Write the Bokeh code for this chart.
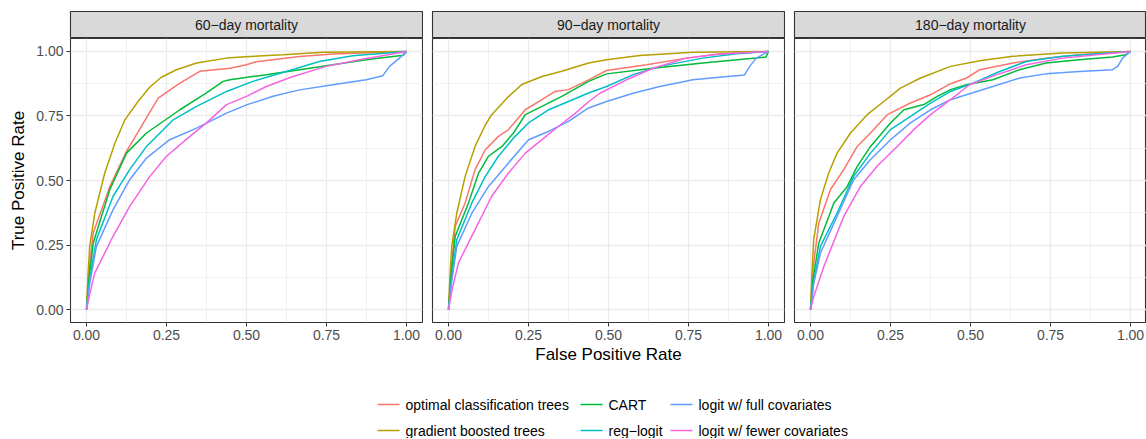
from bokeh.plotting import figure
from bokeh.models import Range1d, FixedTicker, ColumnDataSource
from bokeh.layouts import row, column
from bokeh.embed import file_html
from bokeh.resources import INLINE
from bokeh.core.properties import value

# ---------------- data ----------------
FACETS = ["60−day mortality", "90−day mortality", "180−day mortality"]
MODELS = ["optimal classification trees", "gradient boosted trees", "CART",
          "reg−logit", "logit w/ full covariates", "logit w/ fewer covariates"]
COLORS = ["#F8766D", "#B79F00", "#00BA38", "#00BFC4", "#619CFF", "#F564E3"]
TICKS = [0.0, 0.25, 0.5, 0.75, 1.0]
MINOR_TICKS = [0.125, 0.375, 0.625, 0.875]
TICK_LABELS = ["0.00", "0.25", "0.50", "0.75", "1.00"]
X_TITLE = "False Positive Rate"
Y_TITLE = "True Positive Rate"

# 60-day mortality
OCT_60_FPR = [0, 0.008, 0.021, 0.073, 0.125, 0.224, 0.292, 0.354, 0.448, 0.5, 0.53, 0.666, 0.77, 1.0]
OCT_60_TPR = [0, 0.15, 0.297, 0.477, 0.613, 0.819, 0.877, 0.923, 0.935, 0.948, 0.96, 0.98, 0.99, 1.0]
GBT_60_FPR = [0, 0.005, 0.01, 0.026, 0.057, 0.089, 0.12, 0.161, 0.198, 0.234, 0.281, 0.344, 0.4375, 0.51, 0.614, 0.74, 1.0]
GBT_60_TPR = [0, 0.14, 0.245, 0.374, 0.529, 0.645, 0.735, 0.806, 0.862, 0.9, 0.929, 0.955, 0.974, 0.98, 0.987, 0.997, 1.0]
CART_60_FPR = [0, 0.008, 0.021, 0.073, 0.125, 0.1875, 0.292, 0.375, 0.427, 0.448, 0.562, 0.666, 0.77, 0.874, 0.99, 1.0]
CART_60_TPR = [0, 0.12, 0.258, 0.465, 0.606, 0.684, 0.774, 0.839, 0.884, 0.89, 0.91, 0.929, 0.948, 0.968, 0.985, 1.0]
REG_60_FPR = [0, 0.01, 0.031, 0.083, 0.135, 0.1875, 0.271, 0.344, 0.438, 0.52, 0.624, 0.728, 0.832, 1.0]
REG_60_TPR = [0, 0.12, 0.271, 0.439, 0.542, 0.632, 0.735, 0.787, 0.845, 0.884, 0.922, 0.961, 0.983, 1.0]
FULL_60_FPR = [0, 0.01, 0.031, 0.083, 0.135, 0.1875, 0.26, 0.344, 0.4375, 0.5, 0.583, 0.666, 0.77, 0.874, 0.926, 0.947, 0.978, 1.0]
FULL_60_TPR = [0, 0.1, 0.245, 0.387, 0.503, 0.587, 0.658, 0.703, 0.761, 0.793, 0.826, 0.851, 0.871, 0.89, 0.906, 0.942, 0.974, 1.0]
FEW_60_FPR = [0, 0.01, 0.026, 0.083, 0.135, 0.198, 0.25, 0.323, 0.375, 0.4375, 0.5, 0.562, 0.645, 0.749, 0.853, 1.0]
FEW_60_TPR = [0, 0.06, 0.142, 0.284, 0.4, 0.516, 0.594, 0.671, 0.723, 0.794, 0.826, 0.864, 0.903, 0.942, 0.968, 1.0]

# 90-day mortality
OCT_90_FPR = [0, 0.008, 0.021, 0.052, 0.083, 0.115, 0.156, 0.1875, 0.24, 0.292, 0.333, 0.375, 0.4375, 0.494, 0.619, 0.743, 0.847, 1.0]
OCT_90_TPR = [0, 0.15, 0.323, 0.413, 0.542, 0.619, 0.671, 0.697, 0.774, 0.813, 0.845, 0.852, 0.89, 0.926, 0.948, 0.974, 0.99, 1.0]
GBT_90_FPR = [0, 0.005, 0.01, 0.026, 0.052, 0.083, 0.115, 0.135, 0.1875, 0.229, 0.292, 0.354, 0.4375, 0.494, 0.598, 0.764, 1.0]
GBT_90_TPR = [0, 0.14, 0.245, 0.374, 0.516, 0.632, 0.715, 0.755, 0.825, 0.872, 0.903, 0.923, 0.955, 0.968, 0.984, 0.997, 1.0]
CART_90_FPR = [0, 0.008, 0.021, 0.0625, 0.094, 0.125, 0.167, 0.203, 0.24, 0.292, 0.354, 0.4375, 0.494, 0.639, 0.795, 0.992, 1.0]
CART_90_TPR = [0, 0.13, 0.284, 0.413, 0.529, 0.594, 0.632, 0.684, 0.755, 0.787, 0.826, 0.884, 0.913, 0.935, 0.955, 0.978, 1.0]
REG_90_FPR = [0, 0.01, 0.026, 0.073, 0.115, 0.156, 0.208, 0.25, 0.3125, 0.375, 0.4375, 0.494, 0.577, 0.66, 0.795, 0.9, 1.0]
REG_90_TPR = [0, 0.12, 0.271, 0.413, 0.516, 0.594, 0.671, 0.723, 0.774, 0.806, 0.839, 0.864, 0.91, 0.942, 0.974, 0.991, 1.0]
FULL_90_FPR = [0, 0.01, 0.026, 0.073, 0.125, 0.1875, 0.25, 0.3125, 0.375, 0.4375, 0.494, 0.577, 0.66, 0.764, 0.847, 0.925, 0.941, 0.962, 1.0]
FULL_90_TPR = [0, 0.11, 0.245, 0.374, 0.477, 0.568, 0.658, 0.69, 0.729, 0.781, 0.806, 0.838, 0.864, 0.89, 0.9, 0.909, 0.942, 0.974, 1.0]
FEW_90_FPR = [0, 0.01, 0.031, 0.083, 0.135, 0.1875, 0.24, 0.292, 0.344, 0.396, 0.4375, 0.473, 0.556, 0.639, 0.743, 0.847, 1.0]
FEW_90_TPR = [0, 0.07, 0.181, 0.31, 0.439, 0.529, 0.606, 0.658, 0.71, 0.76, 0.805, 0.838, 0.89, 0.935, 0.974, 0.99, 1.0]

# 180-day mortality
OCT_180_FPR = [0, 0.008, 0.026, 0.0625, 0.104, 0.146, 0.1875, 0.24, 0.3125, 0.375, 0.4375, 0.488, 0.529, 0.633, 0.736, 0.84, 1.0]
OCT_180_TPR = [0, 0.16, 0.335, 0.465, 0.542, 0.632, 0.684, 0.755, 0.8, 0.832, 0.875, 0.897, 0.929, 0.955, 0.974, 0.987, 1.0]
GBT_180_FPR = [0, 0.005, 0.01, 0.031, 0.057, 0.083, 0.125, 0.177, 0.229, 0.281, 0.344, 0.4375, 0.529, 0.632, 0.788, 1.0]
GBT_180_TPR = [0, 0.15, 0.271, 0.426, 0.529, 0.606, 0.684, 0.755, 0.806, 0.858, 0.897, 0.942, 0.964, 0.981, 0.994, 1.0]
CART_180_FPR = [0, 0.008, 0.026, 0.073, 0.115, 0.146, 0.1875, 0.25, 0.292, 0.354, 0.396, 0.4375, 0.487, 0.57, 0.653, 0.736, 0.84, 0.944, 0.985, 1.0]
CART_180_TPR = [0, 0.12, 0.258, 0.413, 0.477, 0.555, 0.632, 0.723, 0.774, 0.794, 0.826, 0.852, 0.871, 0.89, 0.929, 0.955, 0.968, 0.978, 0.987, 1.0]
REG_180_FPR = [0, 0.01, 0.031, 0.083, 0.135, 0.1875, 0.25, 0.3125, 0.375, 0.4375, 0.508, 0.591, 0.674, 0.788, 1.0]
REG_180_TPR = [0, 0.11, 0.245, 0.374, 0.516, 0.606, 0.697, 0.748, 0.8, 0.845, 0.877, 0.922, 0.961, 0.981, 1.0]
FULL_180_FPR = [0, 0.01, 0.031, 0.083, 0.135, 0.1875, 0.25, 0.3125, 0.375, 0.4375, 0.487, 0.57, 0.654, 0.736, 0.84, 0.944, 0.96, 0.975, 1.0]
FULL_180_TPR = [0, 0.1, 0.219, 0.361, 0.503, 0.581, 0.658, 0.723, 0.774, 0.813, 0.832, 0.864, 0.897, 0.913, 0.922, 0.929, 0.942, 0.974, 1.0]
FEW_180_FPR = [0, 0.01, 0.042, 0.104, 0.156, 0.208, 0.271, 0.323, 0.375, 0.4375, 0.497, 0.581, 0.674, 0.788, 1.0]
FEW_180_TPR = [0, 0.05, 0.168, 0.361, 0.477, 0.555, 0.632, 0.697, 0.755, 0.813, 0.871, 0.909, 0.948, 0.974, 1.0]

CURVES = [
    [(OCT_60_FPR, OCT_60_TPR), (GBT_60_FPR, GBT_60_TPR), (CART_60_FPR, CART_60_TPR),
     (REG_60_FPR, REG_60_TPR), (FULL_60_FPR, FULL_60_TPR), (FEW_60_FPR, FEW_60_TPR)],
    [(OCT_90_FPR, OCT_90_TPR), (GBT_90_FPR, GBT_90_TPR), (CART_90_FPR, CART_90_TPR),
     (REG_90_FPR, REG_90_TPR), (FULL_90_FPR, FULL_90_TPR), (FEW_90_FPR, FEW_90_TPR)],
    [(OCT_180_FPR, OCT_180_TPR), (GBT_180_FPR, GBT_180_TPR), (CART_180_FPR, CART_180_TPR),
     (REG_180_FPR, REG_180_TPR), (FULL_180_FPR, FULL_180_TPR), (FEW_180_FPR, FEW_180_TPR)],
]

# ---------------- style / layout ----------------
FONT = "Liberation Sans"
PANEL_W = 352
PANEL_H = 284
STRIP_H = 27
TOP = 11
LEFT = 70
GAP = 8
BOTTOM = 48
LINE_W = 1.5
BORDER = "#333333"
GRID = "#EBEBEB"

columns = []
for i, facet in enumerate(FACETS):
    left = LEFT if i == 0 else 1
    right = 0 if i == len(FACETS) - 1 else 1

    strip = figure(frame_width=PANEL_W, frame_height=STRIP_H,
                   x_range=Range1d(0, 1), y_range=Range1d(0, 1),
                   toolbar_location=None, output_backend="svg",
                   min_border_left=left, min_border_right=right,
                   min_border_top=TOP, min_border_bottom=0)
    strip.axis.visible = False
    strip.grid.visible = False
    strip.background_fill_color = "#D9D9D9"
    strip.outline_line_color = BORDER
    strip.outline_line_width = 1.1
    strip.text(x=[0.5], y=[0.5], text=[facet], text_align="center",
               text_baseline="middle", text_font=value(FONT),
               text_font_size="14px", text_color="#1A1A1A")

    p = figure(frame_width=PANEL_W, frame_height=PANEL_H,
               x_range=Range1d(-0.05, 1.05), y_range=Range1d(-0.05, 1.05),
               toolbar_location=None, output_backend="svg",
               min_border_left=left, min_border_right=right,
               min_border_top=0, min_border_bottom=BOTTOM)
    p.outline_line_color = BORDER
    p.outline_line_width = 1.1
    p.background_fill_color = "white"

    xt = FixedTicker(ticks=TICKS, minor_ticks=MINOR_TICKS)
    yt = FixedTicker(ticks=TICKS, minor_ticks=MINOR_TICKS)
    p.xaxis.ticker = xt
    p.yaxis.ticker = yt
    p.xgrid.ticker = xt
    p.ygrid.ticker = yt
    for g in (p.xgrid, p.ygrid):
        g.grid_line_color = GRID
        g.grid_line_width = 1.3
        g.minor_grid_line_color = GRID
        g.minor_grid_line_width = 0.7

    for ax in (p.xaxis, p.yaxis):
        ax.major_label_overrides = {t: lab for t, lab in zip(TICKS, TICK_LABELS)}
        ax.axis_line_color = None
        ax.major_tick_line_color = BORDER
        ax.major_tick_out = 4
        ax.major_tick_in = 0
        ax.minor_tick_line_color = None
        ax.major_label_text_font = FONT
        ax.major_label_text_font_size = "14px"
        ax.major_label_text_color = "#4D4D4D"
        ax.major_label_standoff = 3
        ax.axis_label_text_font = FONT
        ax.axis_label_text_font_size = "17px"
        ax.axis_label_text_font_style = "normal"
        ax.axis_label_text_color = "black"

    if i == 0:
        p.yaxis.axis_label = Y_TITLE
        p.yaxis.axis_label_standoff = 5
    else:
        p.yaxis.visible = False
    if i == 1:
        p.xaxis.axis_label = X_TITLE
        p.xaxis.axis_label_standoff = 2

    for (fpr, tpr), color in zip(CURVES[i], COLORS):
        p.line(fpr, tpr, line_color=color, line_width=LINE_W)

    columns.append(column(strip, p, spacing=0))

panels = row(*columns, spacing=GAP)

# ---------------- legend ----------------
TOTAL_W = (LEFT + PANEL_W + 1) + (GAP + PANEL_W + 2) + (GAP + PANEL_W + 1)
LEG_H = 68
LEG_COL_X = [377, 580, 670]
LEG_ROW_Y = [34, 60]
KEY_LEN = 22
TEXT_GAP = 6

kx0, kx1, ky, tx, ty, names, cols = [], [], [], [], [], [], []
for k, (name, color) in enumerate(zip(MODELS, COLORS)):
    c, r = divmod(k, 2)
    kx0.append(LEG_COL_X[c])
    kx1.append(LEG_COL_X[c] + KEY_LEN)
    ky.append(LEG_ROW_Y[r])
    tx.append(LEG_COL_X[c] + KEY_LEN + TEXT_GAP)
    ty.append(LEG_ROW_Y[r])
    names.append(name)
    cols.append(color)

leg = figure(width=TOTAL_W, height=LEG_H, x_range=Range1d(0, TOTAL_W),
             y_range=Range1d(LEG_H, 0), toolbar_location=None,
             output_backend="svg", min_border=0)
leg.axis.visible = False
leg.grid.visible = False
leg.outline_line_color = None
src = ColumnDataSource(dict(x0=kx0, x1=kx1, y=ky, tx=tx, ty=ty, name=names, color=cols))
leg.segment(x0="x0", y0="y", x1="x1", y1="y", line_color="color",
            line_width=LINE_W, source=src)
leg.text(x="tx", y="ty", text="name", text_baseline="middle", text_align="left",
         text_font=value(FONT), text_font_size="14px", text_color="black", source=src)

layout = column(panels, leg, spacing=0)

open("out.html", "w").write(file_html(layout, INLINE))
